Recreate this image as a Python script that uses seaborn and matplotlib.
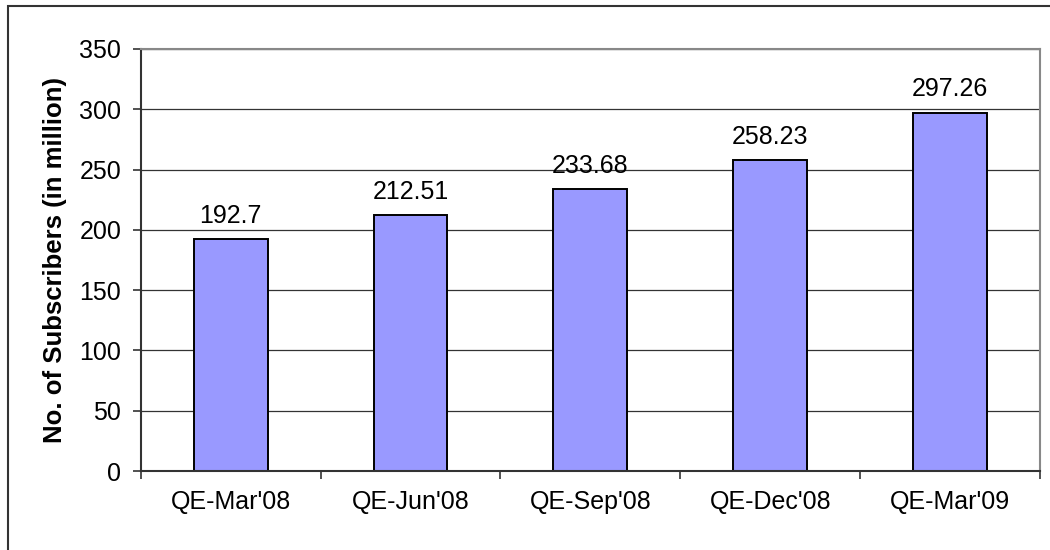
import matplotlib
matplotlib.use('Agg')
import matplotlib.pyplot as plt
from matplotlib.patches import Rectangle
import seaborn as sb
import pandas as pd

# dados
trimestres = ["QE-Mar'08", "QE-Jun'08", "QE-Sep'08", "QE-Dec'08", "QE-Mar'09"]
assinantes = [192.7, 212.51, 233.68, 258.23, 297.26]
rotulos = ['192.7', '212.51', '233.68', '258.23', '297.26']

df = pd.DataFrame({'trimestre': trimestres, 'assinantes': assinantes})

sb.set_style('white')
plt.rcParams['font.family'] = ['Liberation Sans', 'DejaVu Sans']
plt.rcParams['text.color'] = 'black'
plt.rcParams['axes.labelcolor'] = 'black'
plt.rcParams['xtick.labelcolor'] = 'black'
plt.rcParams['ytick.labelcolor'] = 'black'

fig = plt.figure(figsize=(10.5, 5.5), dpi=100)
ax = fig.add_axes([0.134, 0.1436, 0.8565, 0.7674])

sb.barplot(data=df, x='trimestre', y='assinantes', color='#9999FF',
           edgecolor='black', linewidth=1.4, width=0.41, saturation=1, ax=ax)

# rotulos em cima das barras
for i, v in enumerate(assinantes):
    ax.annotate(rotulos[i], (i, v), xytext=(0, 8), textcoords='offset points',
                ha='center', va='bottom', fontsize=18, color='black')

ax.set_ylim(0, 350)
ax.set_xlim(-0.5, len(trimestres) - 0.5)
ax.set_yticks(range(0, 351, 50))
ax.yaxis.grid(True, color='#333333', linewidth=0.9)
ax.set_axisbelow(True)

# ticks do eixo x entre as categorias (estilo excel)
ax.set_xticks([i - 0.5 for i in range(len(trimestres) + 1)], minor=True)
ax.tick_params(axis='x', which='major', length=0, labelsize=18, pad=14)
ax.tick_params(axis='x', which='minor', length=6, width=1.2, color='#333333', direction='out')
ax.tick_params(axis='y', length=6, width=1.2, color='#333333', direction='out', labelsize=18, pad=8)
ax.xaxis.set_ticks_position('bottom')
ax.yaxis.set_ticks_position('left')

ax.set_xlabel('')
ax.set_ylabel('No. of Subscribers (in million)', fontsize=18.5, fontweight='bold', color='black')
ax.yaxis.set_label_coords(-0.082, 0.5)

for lado in ['left', 'bottom']:
    ax.spines[lado].set_color('#333333')
    ax.spines[lado].set_linewidth(1.5)
for lado in ['top', 'right']:
    ax.spines[lado].set_color('#888888')
    ax.spines[lado].set_linewidth(1.5)

# borda externa do grafico
fig.patches.append(Rectangle((8 / 1050, -0.05), 1.2, 544 / 550 + 0.05,
                             transform=fig.transFigure, fill=False,
                             edgecolor='#333333', linewidth=1.5))

fig.savefig('out.png', dpi=100)
